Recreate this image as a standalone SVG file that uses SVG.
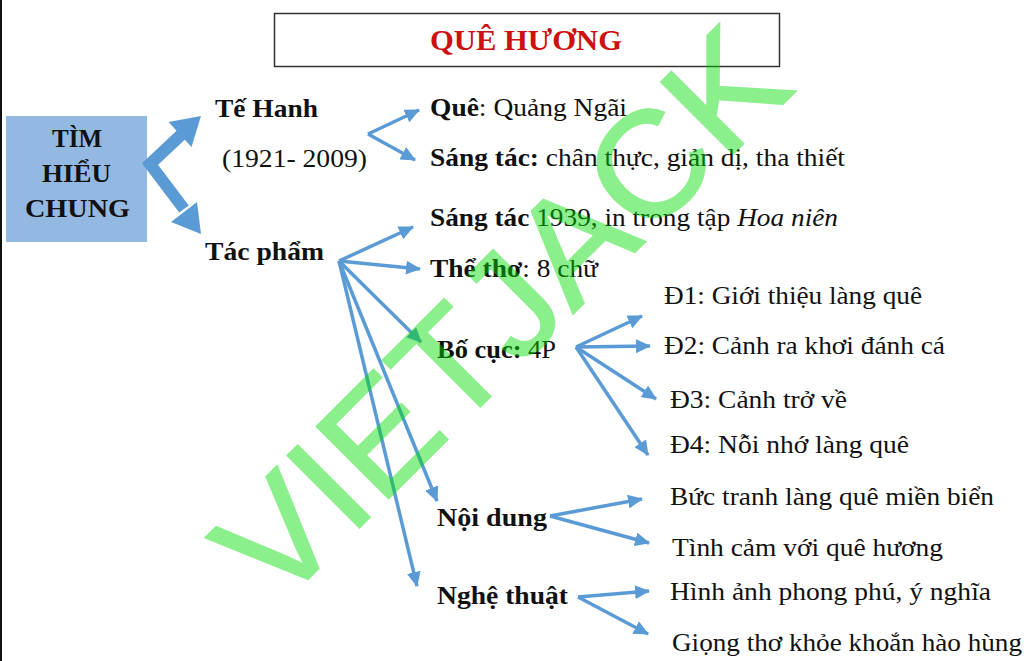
<svg xmlns="http://www.w3.org/2000/svg" width="1024" height="661" viewBox="0 0 1024 661">
<style>
text{font-family:"Liberation Serif","Times New Roman",serif;font-size:26px;fill:#111}
.b{font-weight:bold}
.i{font-style:italic}
.title{font-size:29px;font-weight:bold;fill:#cc1111}
.box{font-size:26px;font-weight:bold}
.ln{stroke:#5b9bd5;stroke-width:3.5;fill:none;marker-end:url(#ah)}
.thick{stroke:#5b9bd5;stroke-width:12;fill:none}
.head{fill:#5b9bd5}
.wm{font-family:"Liberation Sans",Arial,sans-serif;font-size:148px;fill:#00dc00;stroke:#00dc00;stroke-width:2}
</style>
<defs>
<marker id="ah" markerUnits="userSpaceOnUse" markerWidth="16" markerHeight="14" refX="14" refY="7" orient="auto">
<path d="M0,0 L15,7 L0,14 z" fill="#5b9bd5"/>
</marker>
</defs>
<rect width="1024" height="661" fill="#fff"/>
<line x1="1" y1="0" x2="1" y2="661" stroke="#111" stroke-width="2"/>

<g id="title">
<rect x="274.5" y="13.5" width="505" height="53" fill="#fff" stroke="#333" stroke-width="1.5"/>
<text class="title" x="430" y="50" textLength="192" lengthAdjust="spacingAndGlyphs">QUÊ HƯƠNG</text>
</g>

<g id="tim-hieu-chung">
<rect x="6" y="116" width="141" height="126" fill="#93b9e3"/>
<text class="box" x="52" y="147" textLength="50" lengthAdjust="spacingAndGlyphs">TÌM</text>
<text class="box" x="42" y="182" textLength="69" lengthAdjust="spacingAndGlyphs">HIỂU</text>
<text class="box" x="25" y="217" textLength="105" lengthAdjust="spacingAndGlyphs">CHUNG</text>
</g>

<g id="connectors">
<path class="thick" d="M182,134 L150,164 L184,209" stroke-linejoin="miter"/>
<polygon class="head" points="201,116 191.5,147 168.5,122"/>
<polygon class="head" points="201,234 171,222 197,202"/>

<line class="ln" x1="368" y1="134" x2="419" y2="110"/>
<line class="ln" x1="368" y1="134" x2="415" y2="160"/>

<line class="ln" x1="339" y1="261" x2="413" y2="227"/>
<line class="ln" x1="339" y1="261" x2="420" y2="269"/>
<line class="ln" x1="339" y1="261" x2="421" y2="342"/>
<line class="ln" x1="339" y1="261" x2="437" y2="501"/>
<line class="ln" x1="339" y1="261" x2="417" y2="586"/>

<line class="ln" x1="576" y1="347" x2="642" y2="316"/>
<line class="ln" x1="576" y1="347" x2="650" y2="346"/>
<line class="ln" x1="576" y1="347" x2="656" y2="399"/>
<line class="ln" x1="576" y1="347" x2="648" y2="455"/>

<line class="ln" x1="550" y1="516" x2="642" y2="499"/>
<line class="ln" x1="550" y1="516" x2="649" y2="543"/>

<line class="ln" x1="578" y1="597" x2="649" y2="591"/>
<line class="ln" x1="578" y1="597" x2="648" y2="634"/>
</g>

<g id="te-hanh">
<text class="b" x="215" y="117" textLength="103" lengthAdjust="spacingAndGlyphs">Tế Hanh</text>
<text x="222" y="167" textLength="145" lengthAdjust="spacingAndGlyphs">(1921- 2009)</text>
</g>
<g id="tac-pham"><text class="b" x="205" y="260" textLength="119" lengthAdjust="spacingAndGlyphs">Tác phẩm</text></g>

<g id="que"><text x="430" y="116" textLength="197" lengthAdjust="spacingAndGlyphs"><tspan class="b">Quê</tspan>: Quảng Ngãi</text></g>
<g id="sang-tac-1"><text x="430" y="166" textLength="415" lengthAdjust="spacingAndGlyphs"><tspan class="b">Sáng tác:</tspan> chân thực, giản dị, tha thiết</text></g>
<g id="sang-tac-2"><text x="430" y="226" textLength="408" lengthAdjust="spacingAndGlyphs"><tspan class="b">Sáng tác</tspan> 1939, in trong tập <tspan class="i">Hoa niên</tspan></text></g>
<g id="the-tho"><text x="430" y="277" textLength="168" lengthAdjust="spacingAndGlyphs"><tspan class="b">Thể thơ</tspan>: 8 chữ</text></g>
<g id="bo-cuc"><text x="437" y="358" textLength="119" lengthAdjust="spacingAndGlyphs"><tspan class="b">Bố cục:</tspan> 4P</text></g>
<g id="d1"><text x="664" y="304" textLength="258" lengthAdjust="spacingAndGlyphs">Đ1: Giới thiệu làng quê</text></g>
<g id="d2"><text x="664" y="354" textLength="281" lengthAdjust="spacingAndGlyphs">Đ2: Cảnh ra khơi đánh cá</text></g>
<g id="d3"><text x="670" y="408" textLength="177" lengthAdjust="spacingAndGlyphs">Đ3: Cảnh trở về</text></g>
<g id="d4"><text x="670" y="453" textLength="239" lengthAdjust="spacingAndGlyphs">Đ4: Nỗi nhớ làng quê</text></g>
<g id="noi-dung"><text class="b" x="437" y="526" textLength="110" lengthAdjust="spacingAndGlyphs">Nội dung</text></g>
<g id="nd1"><text x="670" y="505" textLength="324" lengthAdjust="spacingAndGlyphs">Bức tranh làng quê miền biển</text></g>
<g id="nd2"><text x="672" y="556" textLength="271" lengthAdjust="spacingAndGlyphs">Tình cảm với quê hương</text></g>
<g id="nghe-thuat"><text class="b" x="437" y="604" textLength="131" lengthAdjust="spacingAndGlyphs">Nghệ thuật</text></g>
<g id="nt1"><text x="670" y="600" textLength="321" lengthAdjust="spacingAndGlyphs">Hình ảnh phong phú, ý nghĩa</text></g>
<g id="nt2"><text x="672" y="651" textLength="350" lengthAdjust="spacingAndGlyphs">Giọng thơ khỏe khoắn hào hùng</text></g>

<g id="watermark" opacity="0.45">
<text class="wm" transform="translate(277,610) rotate(-45)" x="0" y="0" textLength="735" lengthAdjust="spacingAndGlyphs">VIETJACK</text>
</g>
</svg>
